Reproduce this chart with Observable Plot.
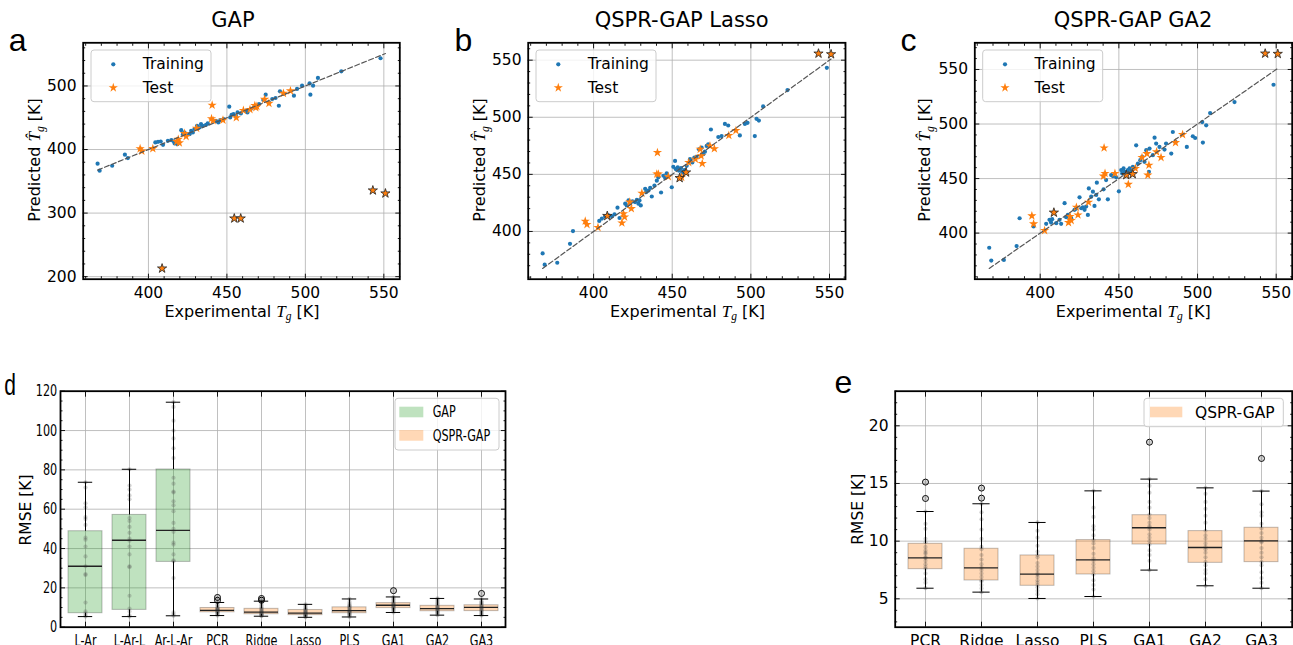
<!DOCTYPE html>
<html><head><meta charset="utf-8">
<script src="https://cdn.jsdelivr.net/npm/d3@7"></script>
<script src="https://cdn.jsdelivr.net/npm/@observablehq/plot@0.6"></script>
<style>
html,body{margin:0;padding:0;background:#fff;}
#fig{position:relative;width:1293px;height:645px;overflow:hidden;background:#fff;font-family:"DejaVu Sans",sans-serif;}
.panel{position:absolute;}
.panel svg{max-width:none;}
#overlay{position:absolute;left:0;top:0;pointer-events:none;}
</style></head><body><div id="fig"></div>
<script>
// ---------------- DATA ----------------
// Experimental vs predicted Tg, training points [experimental, predicted]
const trainGAP = [[367.6,377.7],[368.9,366.7],[376.9,374.5],[385.0,391.9],[386.9,386.6],[404.4,411.1],[406.1,412.1],[407.8,412.6],[409.3,407.4],[412.4,413.7],[414.6,414.7],[416.2,412.6],[416.7,409.5],[418.4,408.4],[420.9,430.5],[422.0,424.2],[423.0,426.8],[424.1,421.6],[426.2,424.2],[427.2,429.5],[428.3,426.8],[429.3,432.1],[431.0,437.4],[432.5,434.7],[433.5,440.0],[434.6,437.4],[436.7,438.9],[437.8,441.0],[443.0,445.3],[444.5,442.6],[445.8,446.3],[447.9,447.9],[451.5,467.4],[452.1,450.5],[453.0,454.7],[454.2,455.8],[455.7,453.2],[456.8,458.4],[458.9,456.8],[462.0,461.1],[463.1,458.4],[465.2,463.7],[467.3,466.3],[470.5,471.6],[473.2,477.9],[474.7,486.3],[476.8,474.2],[478.9,479.5],[481.0,481.1],[483.1,468.9],[483.8,491.6],[486.3,487.4],[492.7,484.7],[494.7,495.3],[497.9,500.5],[502.7,504.2],[503.2,486.3],[504.9,500.5],[508.0,512.6],[522.9,523.1],[547.9,543.6]];
const trainLasso = [[367.6,380.8],[368.9,370.9],[376.9,372.6],[385.0,389.2],[386.9,400.3],[403.6,409.2],[405.3,411.3],[407.4,413.3],[409.5,414.2],[411.6,413.3],[413.3,415.0],[415.2,420.8],[416.5,411.8],[420.1,424.3],[421.1,422.8],[422.2,427.2],[423.3,424.9],[424.7,426.3],[426.4,425.7],[427.5,427.7],[428.5,424.3],[429.2,427.2],[430.0,422.8],[432.8,437.3],[433.4,434.4],[434.9,435.8],[436.0,438.2],[437.0,430.6],[438.7,440.2],[440.2,444.5],[441.2,447.4],[442.9,434.1],[444.4,448.8],[445.5,446.8],[446.5,450.9],[449.7,438.7],[450.7,456.6],[451.8,461.8],[452.2,454.6],[453.5,456.1],[454.3,453.2],[455.6,455.5],[456.4,451.7],[457.7,453.8],[459.2,457.5],[461.3,463.3],[462.8,460.4],[464.1,464.7],[465.5,465.3],[467.0,472.0],[468.7,473.4],[469.8,467.6],[470.8,469.9],[471.9,474.9],[472.9,476.3],[474.6,489.3],[479.3,482.7],[481.4,483.5],[483.5,494.2],[485.6,492.8],[493.0,484.1],[496.2,494.2],[497.9,495.1],[502.5,483.5],[503.6,498.6],[505.1,497.1],[507.8,509.5],[523.3,523.8],[548.3,543.3]];
const trainGA2 = [[367.6,386.6],[368.9,374.8],[376.9,375.4],[385.0,388.1],[386.9,413.6],[395.8,406.1],[403.8,408.5],[405.9,412.2],[406.9,409.7],[407.6,412.8],[410.2,409.1],[412.3,412.2],[413.3,408.5],[415.5,427.4],[416.5,414.6],[417.6,416.7],[419.7,413.7],[421.8,421.3],[422.9,422.5],[425.0,432.8],[426.1,422.8],[427.1,423.7],[428.2,421.3],[429.2,424.3],[430.3,416.7],[430.9,441.0],[432.4,433.4],[433.5,438.0],[434.5,424.9],[435.6,435.0],[436.0,446.2],[437.3,431.0],[440.3,440.1],[441.9,448.6],[443.0,431.0],[445.1,453.2],[446.2,452.3],[448.3,451.1],[450.0,438.3],[451.5,457.8],[452.1,454.7],[453.0,459.3],[453.6,456.2],[454.7,455.3],[455.7,457.8],[456.8,459.3],[457.8,456.2],[458.9,460.8],[461.0,480.5],[462.1,463.8],[463.6,466.9],[464.8,469.9],[466.3,465.3],[467.4,476.0],[469.1,456.2],[469.5,477.5],[471.6,471.4],[472.7,487.5],[473.7,482.1],[475.8,479.0],[479.0,476.6],[480.0,482.1],[483.3,472.9],[484.3,492.7],[486.0,483.6],[493.2,479.0],[497.0,488.8],[498.5,487.2],[503.4,483.0],[503.0,501.8],[505.5,498.8],[508.0,510.0],[523.5,520.1],[548.3,536.0]];

// Test points: shared experimental Tg, predictions per model; 1 = marked (black edge)
const testX     = [394.7,395.8,402.8,408.7,418.0,419.0,419.7,423.0,424.0,430.7,440.6,440.2,441.2,447.5,454.7,458.8,456.0,460.5,464.7,467.8,468.4,469.1,474.0,476.8,486.0,490.5,543.0,551.0];
const testGAP   = [401.3,397.6,401.5,212.9,412.5,416.0,410.5,425.3,420.5,433.5,469.8,448.6,445.4,446.3,291.6,291.6,450.1,461.5,463.0,469.3,466.0,468.0,479.0,472.7,488.5,492.3,335.7,331.0];
const testLasso = [409.0,406.1,403.5,413.6,407.5,415.6,412.7,425.7,420.0,433.5,469.1,450.3,450.3,448.0,446.8,451.7,447.5,460.4,463.3,472.0,466.2,459.5,474.9,472.5,484.1,488.4,555.8,555.2];
const testGA2   = [415.8,408.5,402.4,418.8,409.7,415.2,411.6,423.7,416.7,428.3,478.1,452.3,454.7,454.7,453.2,454.1,444.7,459.3,469.3,472.9,453.2,462.3,474.5,469.3,483.0,490.3,564.6,564.3];
const testFail  = [0,0,0,1,0, 0,0,0,0,0, 0,0,0,0,1, 1,0,0,0,0, 0,0,0,0,0, 0,1,1];

const xTicks = [400,450,500,550];
const yTicksGAP = [200,300,400,500];
const yTicksQSPR = [400,450,500,550];

// Box plot data (RMSE [K])
const allCats = ["L-Ar","L-Ar-L","Ar-L-Ar","PCR","Ridge","Lasso","PLS","GA1","GA2","GA3"];
const catsE = ["PCR","Ridge","Lasso","PLS","GA1","GA2","GA3"];
const whiskLo = [5.4, 5.4, 5.8, 5.92, 5.58, 5.03, 5.2, 7.49, 6.13, 5.92];
const q1      = [7.1, 8.8, 33.2, 7.57, 6.59, 6.13, 7.11, 9.71, 8.12, 8.18];
const med     = [31.0, 44.2, 49.2, 8.55, 7.69, 7.14, 8.38, 11.16, 9.45, 10.03];
const q3      = [48.8, 57.1, 80.2, 9.77, 9.34, 8.76, 10.09, 12.25, 10.87, 11.16];
const whiskHi = [73.7, 80.3, 114.4, 12.57, 13.24, 11.62, 14.36, 15.38, 14.62, 14.34];
const outlierCat = ["PCR","PCR","Ridge","Ridge","GA1","GA3"];
const outlierVal = [15.12, 13.7, 14.6, 13.73, 18.58, 17.17];

const rmseLAr   = [73.7,71,63,61,56,55,52,45.5,44.5,41,36,31,27,26.5,12.5,8,7,6,5.4];
const rmseLArL  = [80.3,72,70,67,65,55.5,54,51,48,45,44,41,37,31,30.5,16,9.5,8,6,5.4];
const rmseArLAr = [114.4,112,105,100,96,91,86,76,73,69,68.5,64,62,59,53,50,48.5,43,42,37,34,33.5,25,7.5,6.5,5.8];
const rmsePCR   = [15.12,13.7,12.57,11.5,11.07,10.2,9.9,9.5,9.2,9.0,8.9,8.6,8.55,8.3,8.0,7.75,7.6,7.2,6.7,6.4,5.92];
const rmseRidge = [14.6,13.73,13.24,12.5,11.9,11.0,10.2,9.5,9.3,8.8,8.4,8.0,7.7,7.5,7.2,6.9,6.6,6.5,6.2,5.9,5.58];
const rmseLasso = [11.62,10.9,10.3,9.6,9.1,8.8,8.6,8.1,7.8,7.5,7.2,7.1,6.9,6.6,6.4,6.2,6.0,5.7,5.4,5.03];
const rmsePLS   = [14.36,12.9,12.1,11.3,11.0,10.5,10.1,9.8,9.4,8.9,8.5,8.3,8.0,7.7,7.4,7.1,6.6,6.2,5.8,5.2];
const rmseGA1   = [18.58,15.38,14.8,14.2,13.4,12.9,12.3,12.0,11.6,11.3,11.2,11.0,10.6,10.3,10.0,9.7,9.2,8.8,8.3,7.49];
const rmseGA2   = [14.62,14.1,13.4,12.8,12.2,11.6,10.9,10.5,10.2,9.8,9.5,9.3,9.0,8.6,8.2,7.9,7.5,7.2,6.7,6.13];
const rmseGA3   = [17.17,14.34,13.2,12.5,12.2,11.5,11.1,10.7,10.3,10.0,9.9,9.4,9.0,8.6,8.2,7.9,7.3,6.8,6.4,5.92];
const rmseSamples = [rmseLAr,rmseLArL,rmseArLAr,rmsePCR,rmseRidge,rmseLasso,rmsePLS,rmseGA1,rmseGA2,rmseGA3];

// ---------------- DRAWING ----------------
const BLUE="#1f77b4", ORANGE="#ff7f0e", GREEN="#2ca02c";
const FONT="DejaVu Sans";
const gridStyle={stroke:"#b0b0b0",strokeOpacity:1,strokeWidth:0.8};
const blank={tickFormat:()=>"",label:null,strokeWidth:0.9};
const inDom=(arr,dom)=>arr.filter(v=>v>=Math.min(...dom)&&v<=Math.max(...dom));
function padExt(vals){const [a,b]=d3.extent(vals);const r=b-a;return [a-0.05*r,b+0.05*r];}
const fig=d3.select("#fig");
function addPanel(left,top,w,h){
  return fig.append("div").attr("class","panel").attr("style",`left:${left}px;top:${top}px;width:${w}px;height:${h}px;`);
}
// horizontally condense text (the reference's panel d is narrowed)
function squishText(sel,s){
  sel.each(function(){
    const L=this.getComputedTextLength();
    if(L>0){this.setAttribute("textLength",(L*s).toFixed(2));this.setAttribute("lengthAdjust","spacingAndGlyphs");}
  });
}

function scatter(cfg){
  const train=cfg.train.map(([x,y])=>({x,y}));
  const test=testX.map((x,i)=>({x,y:cfg.testY[i],fail:testFail[i]===1}));
  const xs=[...train.map(d=>d.x),...testX];
  const diag=d3.extent(xs);
  const ys=[...train.map(d=>d.y),...cfg.testY,...diag];
  const xDom=padExt(xs), yDom=padExt(ys);
  const xMinor=inDom(d3.range(350,570,10).filter(v=>!xTicks.includes(v)),xDom);
  const yMinor=inDom(d3.range(cfg.minorStart,600,cfg.minorStep).filter(v=>!cfg.yTicks.includes(v)),yDom);
  return Plot.plot({
    width:cfg.width,height:330,marginLeft:cfg.mL,marginRight:cfg.mR,marginTop:42.3,marginBottom:51.3,
    x:{domain:xDom},y:{domain:yDom},
    style:{fontFamily:FONT,fontSize:"15.5px",color:"black",background:"transparent",overflow:"visible"},
    marks:[
      Plot.gridX(xTicks,gridStyle),Plot.gridY(cfg.yTicks,gridStyle),
      Plot.dot(train,{x:"x",y:"y",r:2.1,fill:BLUE}),
      Plot.dot(test.filter(d=>!d.fail),{x:"x",y:"y",r:2.9,symbol:"star",fill:ORANGE}),
      Plot.dot(test.filter(d=>d.fail),{x:"x",y:"y",r:2.9,symbol:"star",fill:ORANGE,stroke:"#222",strokeWidth:0.8}),
      Plot.line(diag,{x:d=>d,y:d=>d,stroke:"#555",strokeWidth:1.2,strokeDasharray:"5,2.5"}),
      Plot.axisX(xTicks,{anchor:"bottom",tickSize:-5,tickPadding:12.4,label:null,strokeWidth:0.9}),
      Plot.axisX(xTicks,{anchor:"top",tickSize:-5,...blank}),
      Plot.axisX(xMinor,{anchor:"bottom",tickSize:-2.5,...blank}),
      Plot.axisX(xMinor,{anchor:"top",tickSize:-2.5,...blank}),
      Plot.axisY(cfg.yTicks,{anchor:"left",tickSize:-5,tickPadding:11.7,label:null,strokeWidth:0.9}),
      Plot.axisY(cfg.yTicks,{anchor:"right",tickSize:-5,...blank}),
      Plot.axisY(yMinor,{anchor:"left",tickSize:-2.5,...blank}),
      Plot.axisY(yMinor,{anchor:"right",tickSize:-2.5,...blank}),
      Plot.frame({stroke:"black",strokeWidth:1.8})
    ]
  });
}

addPanel(0,0,430,330).node().appendChild(scatter({train:trainGAP,testY:testGAP,width:430,mL:82.7,mR:30.7,yTicks:yTicksGAP,minorStart:180,minorStep:20}));
addPanel(430,0,430,330).node().appendChild(scatter({train:trainLasso,testY:testLasso,width:430,mL:97.7,mR:15,yTicks:yTicksQSPR,minorStart:350,minorStep:10}));
addPanel(860,0,433,330).node().appendChild(scatter({train:trainGA2,testY:testGA2,width:433,mL:114.3,mR:1.3,yTicks:yTicksQSPR,minorStart:350,minorStep:10}));

function boxPanel(cfg){
  const idx=cfg.cats.map(c=>allCats.indexOf(c));
  const stats=idx.map(i=>({cat:allCats[i],lo:whiskLo[i],q1:q1[i],med:med[i],q3:q3[i],hi:whiskHi[i],gap:i<3}));
  const strip=idx.flatMap(i=>rmseSamples[i].map(v=>({cat:allCats[i],v})));
  const outl=outlierCat.map((c,j)=>({cat:c,v:outlierVal[j]})).filter(d=>cfg.cats.includes(d.cat));
  const yMinor=inDom(d3.range(0,130,cfg.minorStep).filter(v=>!cfg.yTicks.includes(v)),cfg.yDom);
  const ys=cfg.yTickSize;
  return Plot.plot({
    width:cfg.width,height:285,marginLeft:cfg.mL,marginRight:cfg.mR,marginTop:30.7,marginBottom:18.3,
    x:{type:"band",domain:cfg.cats,paddingInner:cfg.padIn,paddingOuter:cfg.padIn/2,align:0.5},
    y:{domain:cfg.yDom},
    style:{fontFamily:FONT,fontSize:cfg.font+"px",color:"black",background:"transparent",overflow:"visible"},
    marks:[
      Plot.gridX(cfg.cats,gridStyle),Plot.gridY(cfg.yTicks,gridStyle),
      Plot.barY(stats.filter(d=>d.gap),{x:"cat",y1:"q1",y2:"q3",fill:GREEN,fillOpacity:0.3,stroke:"#000",strokeOpacity:0.25}),
      Plot.barY(stats.filter(d=>!d.gap),{x:"cat",y1:"q1",y2:"q3",fill:ORANGE,fillOpacity:0.3,stroke:"#000",strokeOpacity:0.25}),
      Plot.dot(strip,{x:"cat",y:"v",r:2.1,fill:"#555",fillOpacity:0.28}),
      Plot.ruleX(stats,{x:"cat",y1:"lo",y2:"q1",stroke:"black",strokeWidth:1}),
      Plot.ruleX(stats,{x:"cat",y1:"q3",y2:"hi",stroke:"black",strokeWidth:1}),
      Plot.tickY(stats,{x:"cat",y:"lo",insetLeft:cfg.cap,insetRight:cfg.cap,stroke:"black",strokeWidth:1}),
      Plot.tickY(stats,{x:"cat",y:"hi",insetLeft:cfg.cap,insetRight:cfg.cap,stroke:"black",strokeWidth:1}),
      Plot.tickY(stats,{x:"cat",y:"med",stroke:"#222",strokeWidth:1.3}),
      Plot.dot(outl,{x:"cat",y:"v",r:3,stroke:"black",fill:"none",strokeWidth:1}),
      Plot.axisX(cfg.cats,{anchor:"bottom",tickSize:-5,tickPadding:12.3,label:null,strokeWidth:0.9}),
      Plot.axisX(cfg.cats,{anchor:"top",tickSize:-5,...blank}),
      Plot.axisY(cfg.yTicks,{anchor:"left",tickSize:-ys,tickPadding:ys+cfg.yGap,label:null,strokeWidth:0.9}),
      Plot.axisY(cfg.yTicks,{anchor:"right",tickSize:-ys,...blank}),
      Plot.axisY(yMinor,{anchor:"left",tickSize:-ys/2,...blank}),
      Plot.axisY(yMinor,{anchor:"right",tickSize:-ys/2,...blank}),
      Plot.frame({stroke:"black",strokeWidth:1.8})
    ]
  });
}

// panel d
const S=0.7;
const dDiv=addPanel(0,360,520,285);
const dPlot=boxPanel({cats:allCats,width:520,mL:60,mR:15,padIn:0.229,cap:9.8,yDom:[0,120],yTicks:[0,20,40,60,80,100,120],minorStep:5,yTickSize:5,yGap:3.3,font:16});
dDiv.node().appendChild(dPlot);
squishText(d3.select(dPlot).selectAll("text"),S);
const dOv=dDiv.append("svg").attr("width",520).attr("height",285).attr("style","position:absolute;left:0;top:0;overflow:visible;")
  .attr("font-family",FONT);
squishText(dOv.append("text").attr("x",4.2).attr("y",35).attr("font-family","Liberation Sans").attr("font-size",30).text("d"),S);
dOv.append("text").attr("transform","translate(30.7,150) rotate(-90)").attr("text-anchor","middle").attr("font-size",15.5).text("RMSE [K]");
dOv.append("rect").attr("x",395).attr("y",38.3).attr("width",104).attr("height",51.7).attr("rx",3)
  .attr("fill","white").attr("fill-opacity",0.8).attr("stroke","#cccccc");
dOv.append("rect").attr("x",399.3).attr("y",46.7).attr("width",24).attr("height",10.6).attr("fill",GREEN).attr("fill-opacity",0.3);
dOv.append("rect").attr("x",399.3).attr("y",70).attr("width",24).attr("height",10.7).attr("fill",ORANGE).attr("fill-opacity",0.3);
squishText(dOv.append("text").attr("x",432.7).attr("y",57.3).attr("font-size",16).text("GAP"),S);
squishText(dOv.append("text").attr("x",432.7).attr("y",80.7).attr("font-size",16).text("QSPR-GAP"),S);

// panel e
const eDiv=addPanel(820,360,473,285);
eDiv.node().appendChild(boxPanel({cats:catsE,width:473,mL:74.7,mR:1.3,padIn:0.4,cap:8.4,yDom:[2.54,23.0],yTicks:[5,10,15,20],minorStep:1,yTickSize:5,yGap:6.7,font:15.5}));
const eOv=eDiv.append("svg").attr("width",473).attr("height",285).attr("style","position:absolute;left:0;top:0;overflow:visible;")
  .attr("font-family",FONT);
eOv.append("text").attr("x",14.4).attr("y",33.3).attr("font-family","Liberation Sans").attr("font-size",32).text("e");
eOv.append("text").attr("transform","translate(42.7,149.2) rotate(-90)").attr("text-anchor","middle").attr("font-size",15.5).text("RMSE [K]");
eOv.append("rect").attr("x",324).attr("y",38.3).attr("width",139.3).attr("height",28.4).attr("rx",3)
  .attr("fill","white").attr("fill-opacity",0.8).attr("stroke","#cccccc");
eOv.append("rect").attr("x",330).attr("y",46.7).attr("width",32.3).attr("height",10.6).attr("fill",ORANGE).attr("fill-opacity",0.3);
eOv.append("text").attr("x",375).attr("y",57.5).attr("font-size",15.5).text("QSPR-GAP");

// overlay for top row titles, labels, legends
const ov=fig.append("svg").attr("id","overlay").attr("width",1293).attr("height",645).attr("font-family",FONT);
const titles=[{t:"GAP",x:233},{t:"QSPR-GAP Lasso",x:681.7},{t:"QSPR-GAP GA2",x:1133}];
titles.forEach(d=>ov.append("text").attr("x",d.x).attr("y",26.7).attr("text-anchor","middle").attr("font-size",21).text(d.t));
const letters=[{t:"a",x:8.7},{t:"b",x:454.5},{t:"c",x:900.4}];
letters.forEach(d=>ov.append("text").attr("x",d.x).attr("y",50.7).attr("font-family","Liberation Sans").attr("font-size",32).text(d.t));
const xLabX=[242,687.5,1133.3], yLabX=[40,485,930], legX=[91,536,982.7];
const serif="Liberation Serif";
xLabX.forEach(cx=>{
  const t=ov.append("text").attr("x",cx).attr("y",316.7).attr("text-anchor","middle").attr("font-size",16);
  t.append("tspan").text("Experimental ");
  t.append("tspan").attr("font-family",serif).attr("font-style","italic").attr("font-size",17).text("T");
  t.append("tspan").attr("font-family",serif).attr("font-style","italic").attr("font-size",11.5).attr("dy",3.5).text("g");
  t.append("tspan").attr("dy",-3.5).text(" [K]");
});
yLabX.forEach(bx=>{
  const t=ov.append("text").attr("transform",`translate(${bx},160) rotate(-90)`).attr("text-anchor","middle").attr("font-size",16);
  t.append("tspan").text("Predicted ");
  t.append("tspan").attr("font-family",serif).attr("font-style","italic").attr("font-size",17).text("T\u0302");
  t.append("tspan").attr("font-family",serif).attr("font-style","italic").attr("font-size",11.5).attr("dy",3.5).text("g");
  t.append("tspan").attr("dy",-3.5).text(" [K]");
});
const starPath=d3.symbol(d3.symbolStar,Math.PI*2.9*2.9)();
legX.forEach(L=>{
  ov.append("rect").attr("x",L).attr("y",50).attr("width",120).attr("height",51.7).attr("rx",3)
    .attr("fill","white").attr("fill-opacity",0.8).attr("stroke","#cccccc");
  ov.append("circle").attr("cx",L+22.3).attr("cy",64.3).attr("r",2.1).attr("fill",BLUE);
  ov.append("path").attr("d",starPath).attr("transform",`translate(${L+22.3},87.7)`).attr("fill",ORANGE);
  ov.append("text").attr("x",L+51.7).attr("y",69.3).attr("font-size",15.5).text("Training");
  ov.append("text").attr("x",L+51.7).attr("y",92.7).attr("font-size",15.5).text("Test");
});
</script></body></html>
